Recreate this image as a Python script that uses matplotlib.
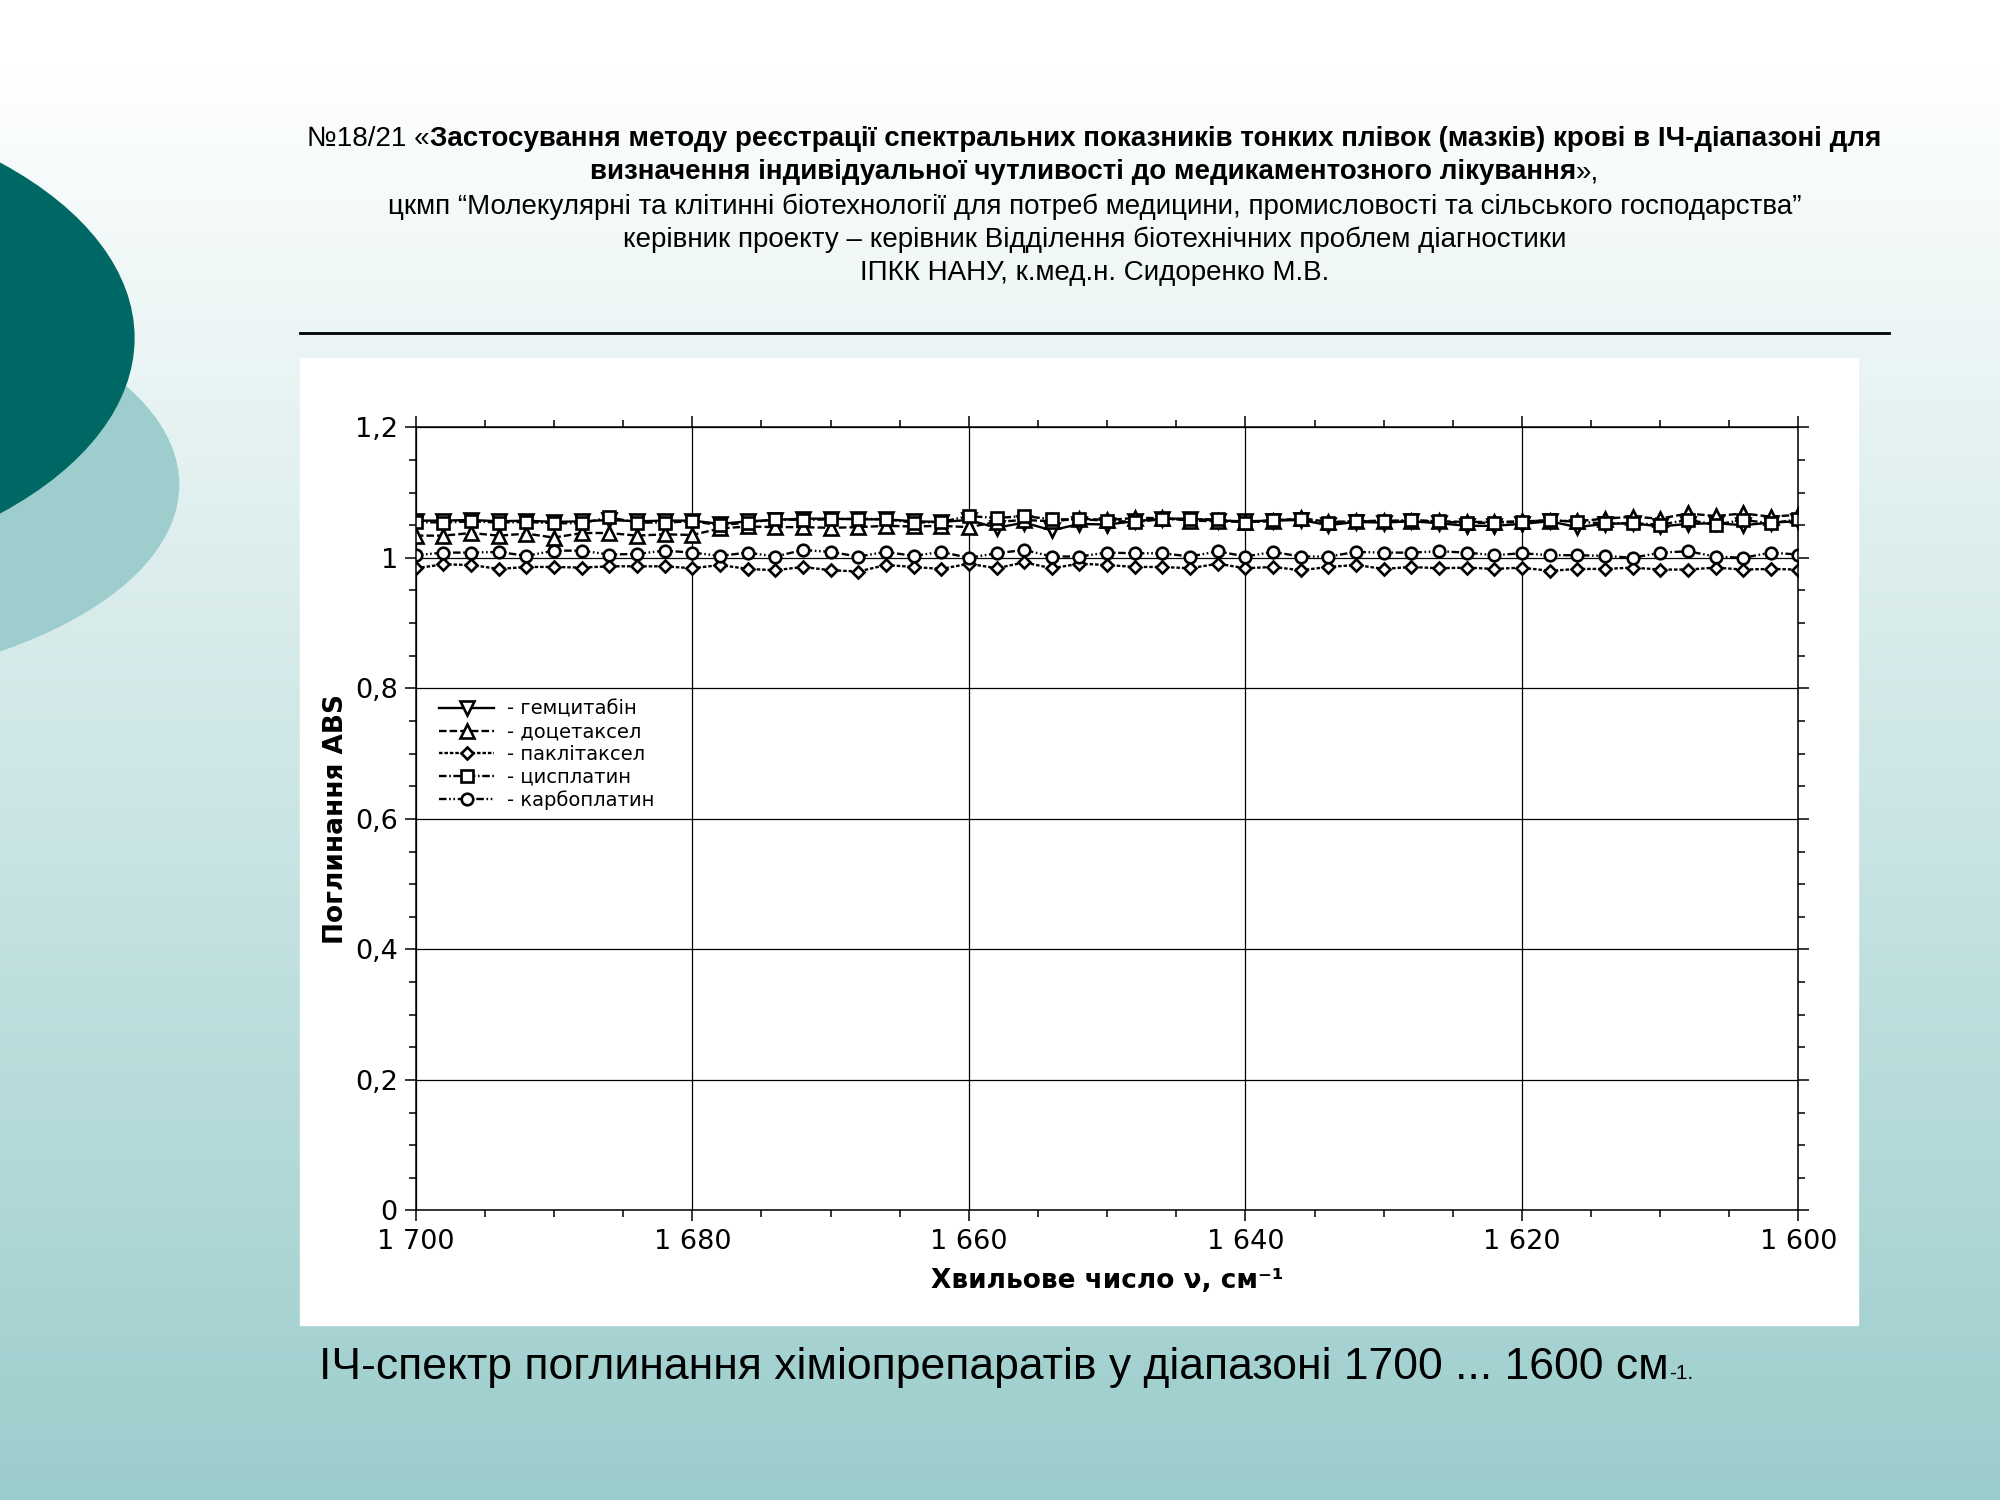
import numpy as np
import matplotlib.pyplot as plt
from matplotlib.patches import Ellipse, Rectangle
from matplotlib.ticker import MultipleLocator, FuncFormatter

# wavenumbers, cm-1 (one marker every 2 cm-1)
wavenumber = np.arange(1700, 1599, -2)

gemcitabine = [1.057, 1.057, 1.058, 1.056, 1.057, 1.055, 1.056, 1.058, 1.056, 1.057, 1.057, 1.052, 1.056,
               1.058, 1.060, 1.060, 1.059, 1.059, 1.056, 1.055, 1.058, 1.046, 1.054, 1.042, 1.052, 1.051,
               1.056, 1.060, 1.060, 1.057, 1.056, 1.057, 1.058, 1.050, 1.055, 1.054, 1.056, 1.053,
               1.049, 1.049, 1.052, 1.056, 1.047, 1.052, 1.053, 1.048, 1.052, 1.053, 1.050, 1.054, 1.056]
docetaxel = [1.034, 1.034, 1.038, 1.034, 1.037, 1.031, 1.038, 1.038, 1.034, 1.036, 1.035, 1.045, 1.048,
             1.047, 1.047, 1.046, 1.047, 1.049, 1.048, 1.049, 1.047, 1.055, 1.058, 1.056, 1.060, 1.058,
             1.061, 1.061, 1.057, 1.056, 1.055, 1.056, 1.061, 1.055, 1.056, 1.057, 1.056, 1.056,
             1.055, 1.055, 1.056, 1.057, 1.056, 1.060, 1.063, 1.060, 1.068, 1.064, 1.068, 1.063, 1.066]
paclitaxel = [0.984, 0.990, 0.989, 0.983, 0.986, 0.986, 0.985, 0.987, 0.987, 0.987, 0.984, 0.989, 0.983,
              0.981, 0.986, 0.981, 0.979, 0.989, 0.986, 0.983, 0.991, 0.984, 0.993, 0.984, 0.991, 0.989,
              0.986, 0.986, 0.984, 0.991, 0.984, 0.986, 0.981, 0.986, 0.989, 0.983, 0.986, 0.984,
              0.985, 0.983, 0.985, 0.980, 0.983, 0.983, 0.985, 0.982, 0.982, 0.985, 0.982, 0.983, 0.982]
cisplatin = [1.055, 1.054, 1.056, 1.054, 1.055, 1.053, 1.053, 1.062, 1.054, 1.054, 1.056, 1.050, 1.054,
             1.059, 1.058, 1.059, 1.060, 1.059, 1.054, 1.055, 1.064, 1.061, 1.064, 1.059, 1.059, 1.057,
             1.055, 1.059, 1.059, 1.059, 1.054, 1.058, 1.059, 1.054, 1.056, 1.056, 1.058, 1.056,
             1.053, 1.054, 1.055, 1.058, 1.055, 1.053, 1.053, 1.051, 1.058, 1.051, 1.058, 1.053, 1.059]
carboplatin = [1.004, 1.008, 1.008, 1.009, 1.003, 1.011, 1.011, 1.005, 1.006, 1.011, 1.008, 1.003, 1.008,
               1.002, 1.012, 1.009, 1.002, 1.009, 1.003, 1.009, 1.000, 1.007, 1.012, 1.002, 1.002, 1.008,
               1.007, 1.007, 1.002, 1.010, 1.002, 1.009, 1.002, 1.002, 1.009, 1.008, 1.008, 1.010,
               1.008, 1.004, 1.007, 1.004, 1.004, 1.003, 1.000, 1.008, 1.010, 1.002, 1.000, 1.008, 1.005]

labels = ["- гемцитабін", "- доцетаксел", "- паклітаксел", "- цисплатин", "- карбоплатин"]

title_lines = [
    [("№18/21 «", "normal"),
     ("Застосування методу реєстрації спектральних показників тонких плівок (мазків) крові в ІЧ-діапазоні для", "bold")],
    [("визначення індивідуальної чутливості до медикаментозного лікування", "bold"), ("»,", "normal")],
    [("цкмп “Молекулярні та клітинні біотехнології для потреб медицини, промисловості та сільського господарства”", "normal")],
    [("керівник проекту – керівник Відділення біотехнічних проблем діагностики", "normal")],
    [("ІПКК НАНУ, к.мед.н. Сидоренко М.В.", "normal")],
]
caption = "ІЧ-спектр поглинання хіміопрепаратів у діапазоні 1700 ... 1600 см"

sans = ["Liberation Sans", "DejaVu Sans"]

fig = plt.figure(figsize=(20, 15), dpi=100)
W, H = 1568, 1176  # layout measured in these units

# background slide
bg = fig.add_axes([0, 0, 1, 1])
bg.set_xlim(0, W)
bg.set_ylim(H, 0)
bg.axis("off")
grad = np.linspace(0, 1, 256)[:, None]
top = np.array([1.0, 1.0, 1.0])
bot = np.array([155, 205, 204]) / 255
img = top + (bot - top) * np.clip((grad - 0.04) / 0.96, 0, 1)[:, :, None]
bg.imshow(img, extent=[0, W, H, 0], aspect="auto", zorder=0)
bg.add_patch(Ellipse((-200, 380), 680, 322, color="#9dcecd", zorder=1))
bg.add_patch(Ellipse((-250, 265), 710, 386, color="#006864", zorder=2))
bg.plot([235, 1481], [261, 261], color="black", lw=2, zorder=3)
bg.add_patch(Rectangle((235, 281), 1457 - 235, 1039 - 281, color="white", zorder=3))

# title block
fig.canvas.draw()
renderer = fig.canvas.get_renderer()
ys = [109, 135, 162, 188, 214]
for parts, yy in zip(title_lines, ys):
    texts = [fig.text(0, 1 - yy / H, s, fontsize=20, fontweight=w, family=sans, va="center")
             for s, w in parts]
    widths = [t.get_window_extent(renderer).width for t in texts]
    x0 = 858 / W * fig.bbox.width - sum(widths) / 2
    for t, w in zip(texts, widths):
        t.set_x(x0 / fig.bbox.width)
        x0 += w

cap = fig.text(250 / W, 1 - 1081 / H, caption, fontsize=32, family=sans, va="baseline")
cw = cap.get_window_extent(renderer)
fig.text(cw.x1 / fig.bbox.width, 1 - 1081 / H, "-1.", fontsize=15, family=sans, va="baseline")

# chart
ax = fig.add_axes([326 / W, 1 - 949 / H, (1410 - 326) / W, (949 - 335) / H])
ax.set_facecolor("white")
ax.set_axisbelow(True)

styles = [
    (gemcitabine, "-", "v", 10.0),
    (docetaxel, (0, (3.2, 1.3)), "^", 10.0),
    (paclitaxel, (0, (1.5, 0.8)), "D", 6.3),
    (cisplatin, (0, (3.2, 1.1, 0.7, 1.1)), "s", 8.3),
    (carboplatin, (0, (3.2, 1.1, 0.7, 1.1, 0.7, 1.1)), "o", 8.3),
]
for (vals, ls, mk, ms), lab in zip(styles, labels):
    ax.plot(wavenumber, vals, color="black", lw=1.7, ls=ls, marker=mk, ms=ms,
            mfc="white", mec="black", mew=1.9, label=lab)

ax.set_xlim(1700, 1600)
ax.set_ylim(0, 1.2)
ax.xaxis.set_major_locator(MultipleLocator(20))
ax.xaxis.set_minor_locator(MultipleLocator(5))
ax.yaxis.set_major_locator(MultipleLocator(0.2))
ax.yaxis.set_minor_locator(MultipleLocator(0.05))
ax.xaxis.set_major_formatter(FuncFormatter(lambda v, p: f"{int(round(v)):,}".replace(",", " ")))
ax.yaxis.set_major_formatter(FuncFormatter(
    lambda v, p: str(int(round(v))) if abs(v - round(v)) < 1e-6 else f"{v:.1f}".replace(".", ",")))
ax.tick_params(which="both", direction="out", top=True, right=True, width=1.1, labelsize=19.5, pad=5)
ax.tick_params(which="major", length=8)
ax.tick_params(which="minor", length=5)
ax.grid(True, which="major", color="black", lw=0.9)
for sp in ax.spines.values():
    sp.set_linewidth(1.1)

ax.set_xlabel("Хвильове число ν, см⁻¹", fontsize=19, fontweight="bold", labelpad=10)
ax.set_ylabel("Поглинання ABS", fontsize=19, fontweight="bold", labelpad=4)

ax.legend(loc="upper left", bbox_to_anchor=(0.017, 0.652), frameon=False, fontsize=14,
          handlelength=2.8, handletextpad=0.7, labelspacing=0.18, borderpad=0, borderaxespad=0)

fig.savefig("out.png", dpi=100)
